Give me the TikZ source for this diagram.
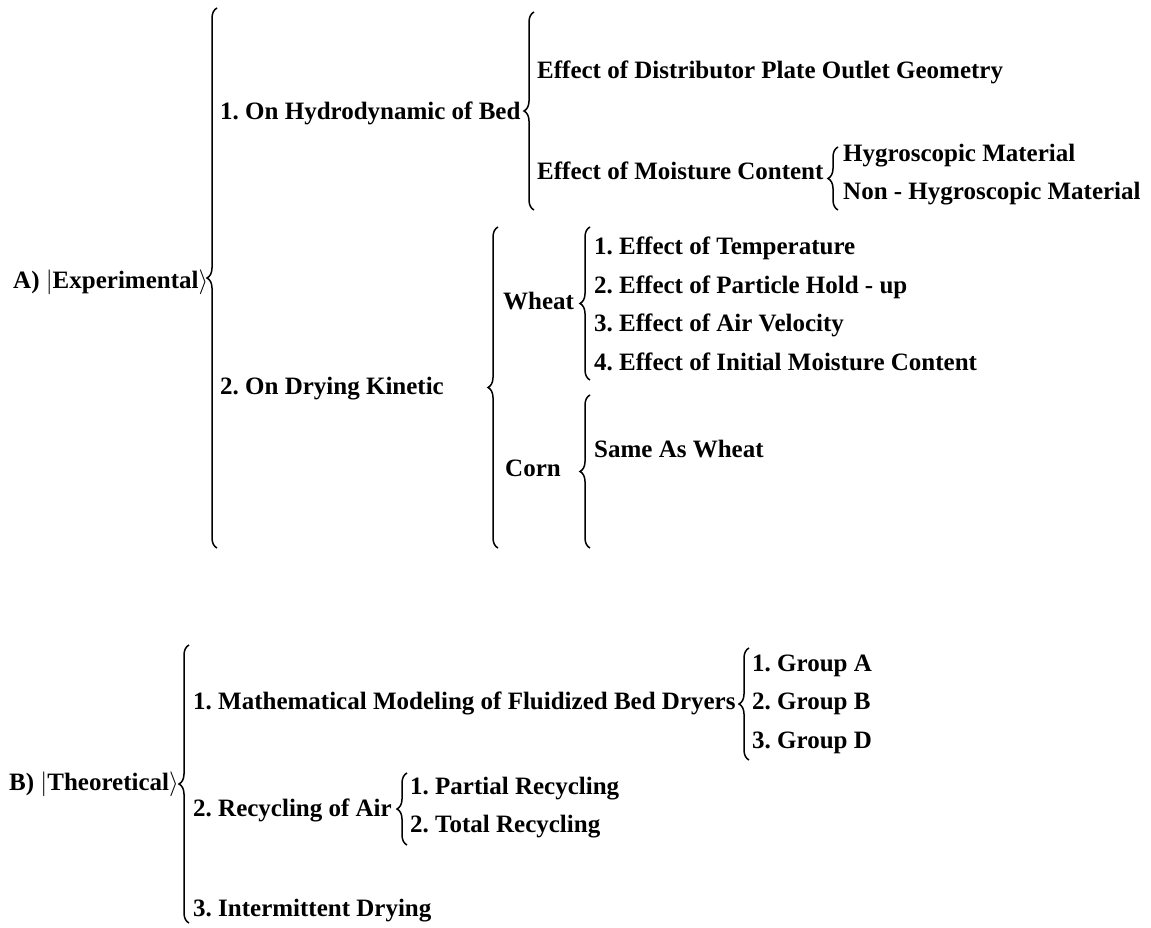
\documentclass[tikz,border=0pt]{standalone}
\usepackage{fontspec}
\setmainfont{Liberation Serif}
\usetikzlibrary{decorations.pathreplacing}
\tikzset{
  lbl/.style={anchor=west, inner sep=0pt, text height=17pt, text depth=5pt,
    font=\fontsize{25}{30}\selectfont\bfseries\frenchspacing},
  brc/.style={decorate, decoration={brace, amplitude=10pt}, line width=1.5pt},
}

\begin{document}
\begin{tikzpicture}[x=1pt, y=-1pt]
      \fill[white] (0,0) rectangle (1151,927);
      \useasboundingbox (0,0) rectangle (1151,927);
      % A) experimental part
      \node[lbl] (exp) at (13,282) {A) $|$Experimental$\rangle$};
      \node[lbl] (hyd) at (220,113) {1. On Hydrodynamic of Bed};
      \node[lbl] (dist) at (537,72) {Effect of Distributor Plate Outlet Geometry};
      \node[lbl] (moist) at (537,173) {Effect of Moisture Content};
      \node[lbl] (hyg) at (843,155) {Hygroscopic Material};
      \node[lbl] (nonhyg) at (843,193) {Non - Hygroscopic Material};
      \node[lbl] (dry) at (220,388) {2. On Drying Kinetic};
      \node[lbl] (wheat) at (503,303) {Wheat};
      \node[lbl] (t1) at (594,248) {1. Effect of Temperature};
      \node[lbl] (t2) at (594,287) {2. Effect of Particle Hold - up};
      \node[lbl] (t3) at (594,325) {3. Effect of Air Velocity};
      \node[lbl] (t4) at (594,364) {4. Effect of Initial Moisture Content};
      \node[lbl] (corn) at (505,470) {Corn};
      \node[lbl] (same) at (594,451) {Same As Wheat};
      % B) theoretical part
      \node[lbl] (theo) at (9,784) {B) $|$Theoretical$\rangle$};
      \node[lbl] (math) at (193,703) {1. Mathematical Modeling of Fluidized Bed Dryers};
      \node[lbl] (g1) at (752,665) {1. Group A};
      \node[lbl] (g2) at (752,703) {2. Group B};
      \node[lbl] (g3) at (752,742) {3. Group D};
      \node[lbl] (recyc) at (193,810) {2. Recycling of Air};
      \node[lbl] (p1) at (410,788) {1. Partial Recycling};
      \node[lbl] (p2) at (410,826) {2. Total Recycling};
      \node[lbl] (inter) at (193,910) {3. Intermittent Drying};
      % brace ends
      \coordinate (expT) at (217,8);    \coordinate (expB) at (217,548);
      \coordinate (hydT) at (534,12);   \coordinate (hydB) at (534,210);
      \coordinate (moistT) at (838,147);\coordinate (moistB) at (838,210);
      \coordinate (dryT) at (498,227);  \coordinate (dryB) at (498,548);
      \coordinate (wheatT) at (590,227);\coordinate (wheatB) at (590,380);
      \coordinate (cornT) at (590,395); \coordinate (cornB) at (590,548);
      \coordinate (theoT) at (189,645); \coordinate (theoB) at (189,923);
      \coordinate (mathT) at (749,648); \coordinate (mathB) at (749,760);
      \coordinate (recycT) at (407,773);\coordinate (recycB) at (407,845);
      \foreach \b in {exp,hyd,moist,dry,wheat,corn,theo,math,recyc}
        \draw[brc] (\b B) -- (\b T);
    \end{tikzpicture}
\end{document}
